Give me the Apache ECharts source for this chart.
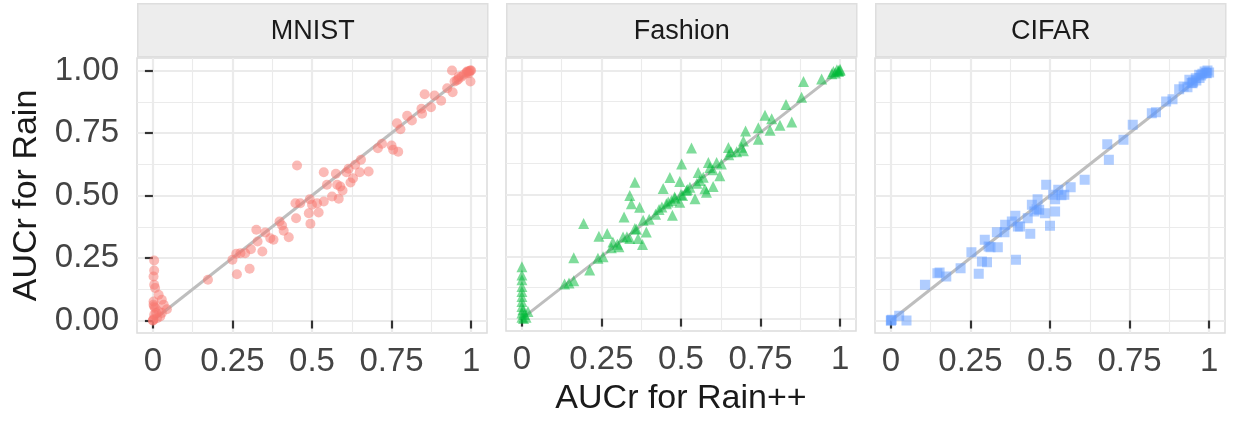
<!DOCTYPE html>
<html>
<head>
<meta charset="utf-8">
<script src="https://cdn.jsdelivr.net/npm/echarts@6/dist/echarts.min.js"></script>
<style>
html,body{margin:0;padding:0;background:#fff;}
#chart{width:1233px;height:421px;}
</style>
</head>
<body>
<div id="chart"></div>
<script>
// ---- data ----
const panelNames = ['MNIST', 'Fashion', 'CIFAR'];
const xTicks = [0, 0.25, 0.5, 0.75, 1];
const xTickLabels = ['0', '0.25', '0.5', '0.75', '1'];
const yTicks = [0, 0.25, 0.5, 0.75, 1];
const yTickLabels = ['0.00', '0.25', '0.50', '0.75', '1.00'];
const minorTicks = [0.125, 0.375, 0.625, 0.875];
const xTitle = 'AUCr for Rain++';
const yTitle = 'AUCr for Rain';

const mnistX = [0.004,0.004,0.002,0.004,0.007,0.018,0.002,0.028,0.002,0.034,0.007,0.044,0.018,0.004,0.028,0.002,0.013,0,0.023,0.01,0.004,0,
0.173,0.25,0.264,0.262,0.275,0.29,0.304,0.308,0.325,0.329,0.344,0.353,0.369,0.379,0.398,0.406,0.411,0.427,0.453,0.45,
0.448,0.463,0.49,0.495,0.493,0.5,0.516,0.521,0.537,0.537,0.547,0.563,0.575,0.579,0.584,0.589,0.596,0.608,0.615,0.621,
0.629,0.636,0.65,0.654,0.678,0.707,0.72,0.75,0.755,0.771,0.767,0.778,0.799,0.814,0.844,0.846,0.854,0.874,0.885,0.906,
0.925,0.94,0.942,0.948,0.961,0.977,0.998,0.987,0.998,1.0,0.993,0.99,0.995,0.985,0.97,0.96,0.955];
const mnistY = [0.24,0.2,0.176,0.143,0.13,0.103,0.076,0.083,0.063,0.063,0.05,0.045,0.036,0.023,0.03,0.005,0.009,0,0.016,0.03,0.056,0,
0.163,0.243,0.185,0.267,0.269,0.269,0.207,0.285,0.363,0.316,0.276,0.352,0.329,0.323,0.396,0.38,0.359,0.333,0.62,0.409,
0.469,0.469,0.429,0.387,0.485,0.463,0.469,0.432,0.476,0.593,0.543,0.496,0.587,0.543,0.487,0.536,0.52,0.593,0.607,0.552,
0.569,0.623,0.593,0.643,0.596,0.689,0.707,0.7,0.683,0.675,0.789,0.765,0.819,0.8,0.847,0.827,0.905,0.853,0.9,0.879,
0.929,1.0,0.913,0.956,0.976,0.983,0.956,0.996,1.0,1.0,0.989,0.995,0.998,0.99,0.975,0.965,0.96];

const fashionX = [0,0,0,0,0,0,0,0,0.003,0,0.008,0,0.013,0.005,0.019,
0.134,0.148,0.163,0.163,0.194,0.213,0.239,0.255,0.242,0.268,
0.286,0.281,0.305,0.318,0.321,0.339,0.339,0.344,0.355,0.355,
0.365,0.37,0.381,0.379,0.391,0.431,0.444,0.454,0.465,0.47,
0.473,0.481,0.496,0.496,0.502,0.505,0.517,0.533,0.528,0.544,
0.554,0.559,0.575,0.58,0.586,0.591,0.601,0.612,0.622,0.627,
0.649,0.657,0.675,0.696,0.696,0.703,0.743,0.743,0.764,0.78,
0.785,0.811,0.83,0.848,0.879,0.885,0.942,0.979,0.99,1.0,
1.0,0.995,0.974,0.3,0.33,0.36,0.4,0.42,0.44,0.46,0.48,0.5,0.52,0.55,0.57,0.6,0.65,0.69,0.985,0.995];
const fashionY = [0.209,0.176,0.156,0.129,0.109,0.089,0.069,0.049,0.036,0.023,0.016,0.005,0.005,0,0.029,
0.139,0.143,0.152,0.245,0.383,0.196,0.243,0.249,0.332,0.343,
0.309,0.285,0.289,0.329,0.409,0.323,0.496,0.463,0.549,0.363,
0.323,0.449,0.396,0.299,0.349,0.44,0.524,0.463,0.569,0.476,
0.416,0.485,0.552,0.469,0.623,0.496,0.516,0.687,0.529,0.483,
0.589,0.556,0.523,0.509,0.629,0.609,0.532,0.629,0.576,0.623,
0.689,0.672,0.672,0.676,0.716,0.756,0.769,0.723,0.819,0.759,
0.805,0.779,0.863,0.792,0.892,0.955,0.965,0.996,1.003,1.005,
1.0,0.996,0.987,0.3,0.33,0.36,0.4,0.42,0.45,0.47,0.49,0.5,0.52,0.545,0.57,0.6,0.66,0.69,0.99,1.0];

const cifarX = [0.003,0,0,0.026,0.049,0.107,0.146,0.153,0.174,0.219,0.253,0.276,0.286,0.295,0.302,
0.307,0.313,0.333,0.336,0.357,0.359,0.38,0.391,0.393,0.399,0.406,0.43,0.438,0.443,0.451,
0.458,0.461,0.466,0.484,0.488,0.5,0.51,0.516,0.516,0.526,0.536,0.545,0.565,0.609,0.68,
0.685,0.731,0.76,0.82,0.833,0.865,0.885,0.906,0.92,0.932,0.938,0.948,0.958,0.969,0.979,
0.986,0.995,1.0,0.993,0.95,0.96,0.975,0.99,0.97,0.945];
const cifarY = [0.003,0,0,0.019,0,0.143,0.189,0.192,0.176,0.209,0.273,0.187,0.236,0.323,0.233,
0.296,0.293,0.353,0.293,0.353,0.383,0.396,0.419,0.243,0.376,0.376,0.409,0.347,0.463,0.436,
0.445,0.485,0.443,0.429,0.543,0.379,0.503,0.485,0.436,0.523,0.501,0.503,0.533,0.563,0.705,
0.643,0.723,0.783,0.829,0.833,0.876,0.885,0.925,0.936,0.933,0.963,0.949,0.969,0.983,0.987,
0.996,1.0,0.992,0.989,0.955,0.96,0.98,0.99,0.97,0.95];

const refLineX = [0, 1];
const refLineY = [0, 1];

// ---- styling / layout ----
const FONT = '"Liberation Sans", Arial, Helvetica, sans-serif';
const colors = ['#F8766D', '#00BA38', '#619CFF'];
const symbols = ['circle', 'triangle', 'rect'];
const symbolSizes = [10, 11, 10];
const panelLeft = [137, 506, 875];
const panelWidth = 350;
const panelTop = 58;
const panelHeight = 275;
const stripTop = 3;
const stripHeight = 53;
const GRIDC = '#EBEBEB';

const xsArr = [mnistX, fashionX, cifarX];
const ysArr = [mnistY, fashionY, cifarY];

function labelFor(ticks, labels) {
  return function (v) {
    for (let i = 0; i < ticks.length; i++) if (Math.abs(ticks[i] - v) < 1e-9) return labels[i];
    return '';
  };
}

const grids = [], xAxes = [], yAxes = [], series = [], graphics = [];
for (let p = 0; p < 3; p++) {
  grids.push({
    left: panelLeft[p], top: panelTop, width: panelWidth, height: panelHeight,
    show: true, backgroundColor: '#FFFFFF', borderColor: '#DCDCDC', borderWidth: 1.5
  });
  xAxes.push({
    type: 'value', gridIndex: p, min: -0.05, max: 1.05, position: 'bottom',
    axisLine: { show: false },
    axisTick: { show: true, customValues: xTicks, length: 8, inside: false, lineStyle: { color: '#333333', width: 2.2 } },
    axisLabel: { show: true, customValues: xTicks, formatter: labelFor(xTicks, xTickLabels), fontSize: 33, fontFamily: FONT, color: '#444444', margin: 12 },
    splitLine: { show: true, lineStyle: { color: GRIDC, width: 2.2 } },
    name: p === 1 ? xTitle : '', nameLocation: 'middle', nameGap: 51,
    nameTextStyle: { fontSize: 34, fontFamily: FONT, color: '#1A1A1A' }
  });
  xAxes.push({
    type: 'value', gridIndex: p, min: -0.05, max: 1.05, position: 'top',
    axisLine: { show: false },
    axisTick: { show: false, customValues: minorTicks },
    axisLabel: { show: false, customValues: minorTicks },
    splitLine: { show: true, lineStyle: { color: GRIDC, width: 1.1 } }
  });
  yAxes.push({
    type: 'value', gridIndex: p, min: -0.05, max: 1.05, position: 'left',
    axisLine: { show: false },
    axisTick: { show: p === 0, customValues: yTicks, length: 8, lineStyle: { color: '#333333', width: 2.2 } },
    axisLabel: { show: p === 0, customValues: yTicks, formatter: labelFor(yTicks, yTickLabels), fontSize: 33, fontFamily: FONT, color: '#444444', margin: 18 },
    splitLine: { show: true, lineStyle: { color: GRIDC, width: 2.2 } },
    name: p === 0 ? yTitle : '', nameLocation: 'middle', nameGap: 93, nameRotate: 90,
    nameTextStyle: { fontSize: 34, fontFamily: FONT, color: '#1A1A1A' }
  });
  yAxes.push({
    type: 'value', gridIndex: p, min: -0.05, max: 1.05, position: 'right',
    axisLine: { show: false },
    axisTick: { show: false, customValues: minorTicks },
    axisLabel: { show: false, customValues: minorTicks },
    splitLine: { show: true, lineStyle: { color: GRIDC, width: 1.1 } }
  });

  series.push({
    type: 'line', xAxisIndex: 2 * p, yAxisIndex: 2 * p, silent: true,
    symbol: 'none', z: 2,
    data: refLineX.map((x, i) => [x, refLineY[i]]),
    lineStyle: { color: '#BEBEBE', width: 3 }
  });
  series.push({
    type: 'scatter', xAxisIndex: 2 * p, yAxisIndex: 2 * p, z: 3,
    symbol: symbols[p], symbolSize: symbolSizes[p],
    data: xsArr[p].map((x, i) => [x, ysArr[p][i]]),
    itemStyle: { color: colors[p], opacity: 0.5 }
  });

  graphics.push({
    type: 'group', left: panelLeft[p], top: stripTop,
    children: [
      { type: 'rect', shape: { x: 0, y: 0, width: panelWidth, height: stripHeight },
        style: { fill: '#EDEDED', stroke: '#DEDEDE', lineWidth: 1.5 } },
      { type: 'text', x: panelWidth / 2, y: stripHeight / 2 + 1,
        style: { text: panelNames[p], font: '27px ' + FONT, fill: '#1A1A1A', textAlign: 'center', textVerticalAlign: 'middle' } }
    ]
  });
}

const chart = echarts.init(document.getElementById('chart'), null, { renderer: 'canvas' });
chart.setOption({
  animation: false,
  backgroundColor: '#FFFFFF',
  grid: grids,
  xAxis: xAxes,
  yAxis: yAxes,
  series: series,
  graphic: graphics
});
</script>
</body>
</html>
